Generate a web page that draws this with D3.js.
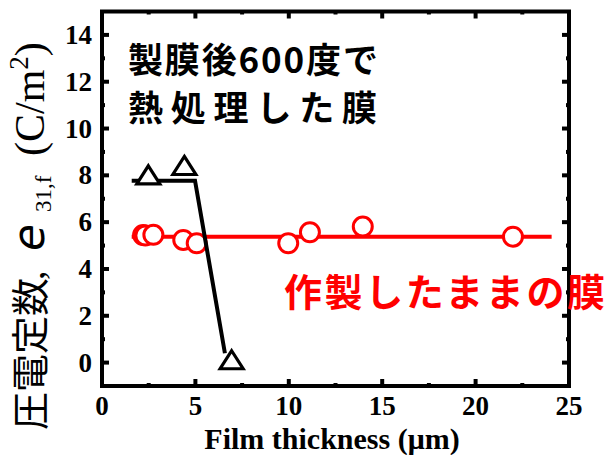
<!DOCTYPE html>
<html>
<head>
<meta charset="utf-8">
<script src="https://cdn.jsdelivr.net/npm/d3@7"></script>
<style>
	html, body { margin: 0; padding: 0; background: #fff; }
	svg { display: block; }
	.tick-label { font-family: "Liberation Serif", "DejaVu Serif", serif; font-weight: bold; font-size: 27px; }
	.axis-title { font-family: "Liberation Serif", "DejaVu Serif", serif; font-weight: bold; font-size: 30px; }
	.note { font-family: "Noto Sans CJK JP", sans-serif; font-weight: bold; }
</style>
</head>
<body>
<script>
'use strict';

// annealed at 600 deg after deposition (triangles) and its guide line
var annealedX = [2.48, 4.41, 6.94];
var annealedY = [8.0, 8.4, 0.1];
var annealedLineX = [1.59, 4.98, 6.58];
var annealedLineY = [7.77, 7.77, 0.4];

// as-deposited films (circles) and its guide line
var asDepX = [2.2, 2.32, 2.75, 4.35, 5.07, 9.97, 11.13, 13.96, 22.0];
var asDepY = [5.45, 5.43, 5.46, 5.24, 5.1, 5.1, 5.57, 5.81, 5.38];
var asDepLineX = [1.59, 24.07];
var asDepLineY = [5.38, 5.38];

var xTicks = [0, 5, 10, 15, 20, 25];
var xMinor = [2.5, 7.5, 12.5, 17.5, 22.5];
var yTicks = [0, 2, 4, 6, 8, 10, 12, 14];
var yMinor = [1, 3, 5, 7, 9, 11, 13];

var width = 608, height = 455;
var plotLeft = 102, plotRight = 569, plotTop = 11.5, plotBottom = 386;

var x = d3.scaleLinear().domain([0, 25]).range([plotLeft, plotRight]);
var y = d3.scaleLinear().domain([-1, 15]).range([plotBottom, plotTop]);

var svg = d3.select('body').append('svg')
	.attr('width', width)
	.attr('height', height);

var zip = function(xs, ys) {
	return xs.map(function(d, i) { return [d, ys[i]]; });
};

var line = d3.line()
	.x(function(d) { return x(d[0]); })
	.y(function(d) { return y(d[1]); });

// red guide line and circles
svg.append('path')
	.datum(zip(asDepLineX, asDepLineY))
	.attr('d', line)
	.attr('fill', 'none')
	.attr('stroke', '#ff0000')
	.attr('stroke-width', 4);

svg.append('g')
	.selectAll('circle')
	.data(zip(asDepX, asDepY))
	.enter()
	.append('circle')
	.attr('cx', function(d) { return x(d[0]); })
	.attr('cy', function(d) { return y(d[1]); })
	.attr('r', 9.5)
	.attr('fill', '#fff')
	.attr('stroke', '#ff0000')
	.attr('stroke-width', 3);

// black guide line and triangles
svg.append('path')
	.datum(zip(annealedLineX, annealedLineY))
	.attr('d', line)
	.attr('fill', 'none')
	.attr('stroke', '#000')
	.attr('stroke-width', 4)
	.attr('stroke-linejoin', 'miter');

var tri = function(d) {
	var cx = x(d[0]), cy = y(d[1]);
	return 'M' + cx + ',' + (cy - 9.5) +
		'L' + (cx + 11.5) + ',' + (cy + 8.5) +
		'L' + (cx - 11.5) + ',' + (cy + 8.5) + 'Z';
};

svg.append('g')
	.selectAll('path')
	.data(zip(annealedX, annealedY))
	.enter()
	.append('path')
	.attr('d', tri)
	.attr('fill', '#fff')
	.attr('stroke', '#000')
	.attr('stroke-width', 3.2)
	.attr('stroke-linejoin', 'miter');

// axes: ticks on all four sides, pointing inward
var axisG = svg.append('g');

var addXTicks = function(values, len) {
	values.forEach(function(v) {
		axisG.append('line')
			.attr('x1', x(v)).attr('x2', x(v))
			.attr('y1', plotBottom).attr('y2', plotBottom - len)
			.attr('stroke', '#000').attr('stroke-width', 4);
		axisG.append('line')
			.attr('x1', x(v)).attr('x2', x(v))
			.attr('y1', plotTop).attr('y2', plotTop + len)
			.attr('stroke', '#000').attr('stroke-width', 4);
	});
};
var addYTicks = function(values, len) {
	values.forEach(function(v) {
		axisG.append('line')
			.attr('x1', plotLeft).attr('x2', plotLeft + len)
			.attr('y1', y(v)).attr('y2', y(v))
			.attr('stroke', '#000').attr('stroke-width', 4);
		axisG.append('line')
			.attr('x1', plotRight).attr('x2', plotRight - len)
			.attr('y1', y(v)).attr('y2', y(v))
			.attr('stroke', '#000').attr('stroke-width', 4);
	});
};
addXTicks(xTicks, 7);
addXTicks(xMinor, 3);
addYTicks(yTicks, 7);
addYTicks(yMinor, 3);

axisG.append('rect')
	.attr('x', plotLeft).attr('y', plotTop)
	.attr('width', plotRight - plotLeft).attr('height', plotBottom - plotTop)
	.attr('fill', 'none')
	.attr('stroke', '#000')
	.attr('stroke-width', 4);

svg.append('g')
	.selectAll('text')
	.data(xTicks)
	.enter()
	.append('text')
	.attr('class', 'tick-label')
	.attr('x', function(d) { return x(d); })
	.attr('y', 415)
	.attr('text-anchor', 'middle')
	.text(function(d) { return d; });

svg.append('g')
	.selectAll('text')
	.data(yTicks)
	.enter()
	.append('text')
	.attr('class', 'tick-label')
	.attr('x', 92)
	.attr('y', function(d) { return y(d) + 9; })
	.attr('text-anchor', 'end')
	.text(function(d) { return d; });

// axis titles
svg.append('text')
	.attr('class', 'axis-title')
	.attr('x', 332)
	.attr('y', 449)
	.attr('text-anchor', 'middle')
	.text('Film thickness (\u03bcm)');

// y title is laid out along the rotated baseline; x is the distance from its start
var yTitle = svg.append('text')
	.attr('transform', 'translate(44,430) rotate(-90)');
yTitle.append('tspan')
	.attr('x', 0)
	.style('font-family', '"Noto Sans CJK JP", sans-serif')
	.style('font-size', '38px')
	.text('圧電定数');
yTitle.append('tspan')
	.attr('x', 150)
	.style('font-family', '"Liberation Serif", serif')
	.style('font-size', '38px')
	.text(',');
yTitle.append('tspan')
	.attr('x', 179)
	.style('font-family', '"DejaVu Sans", sans-serif')
	.style('font-style', 'oblique')
	.style('font-size', '44px')
	.text('e');
yTitle.append('tspan')
	.attr('x', 218)
	.attr('dy', 7)
	.style('font-family', '"Liberation Serif", serif')
	.style('font-size', '23px')
	.text('31,f');
yTitle.append('tspan')
	.attr('x', 274)
	.attr('dy', -7)
	.style('font-family', '"Liberation Serif", serif')
	.style('font-size', '42px')
	.text('(C/m');
yTitle.append('tspan')
	.attr('dy', -16)
	.style('font-family', '"Liberation Serif", serif')
	.style('font-size', '27px')
	.text('2');
yTitle.append('tspan')
	.attr('dy', 16)
	.style('font-family', '"Liberation Serif", serif')
	.style('font-size', '42px')
	.text(')');

// annotations
svg.append('text')
	.attr('class', 'note')
	.style('font-size', '35px')
	.attr('x', 128)
	.attr('y', 73)
	.attr('textLength', 250)
	.attr('lengthAdjust', 'spacing')
	.text('製膜後600度で');

svg.append('text')
	.attr('class', 'note')
	.style('font-size', '35px')
	.attr('x', 128)
	.attr('y', 121)
	.attr('textLength', 249)
	.attr('lengthAdjust', 'spacing')
	.text('熱処理した膜');

svg.append('text')
	.attr('class', 'note')
	.style('font-size', '38px')
	.attr('x', 284)
	.attr('y', 306)
	.attr('fill', '#ff0000')
	.attr('textLength', 321)
	.attr('lengthAdjust', 'spacing')
	.text('作製したままの膜');
</script>
</body>
</html>
